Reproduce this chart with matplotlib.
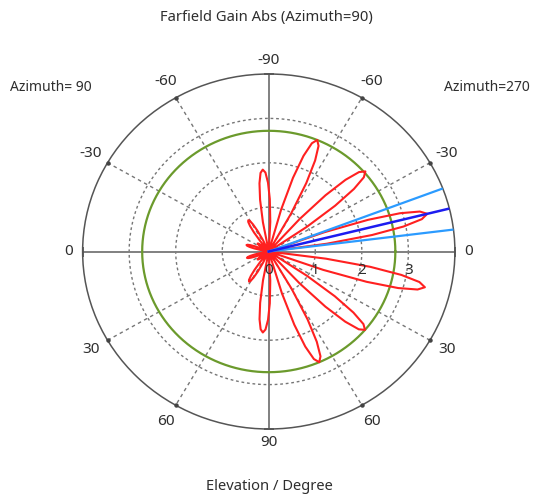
import matplotlib
matplotlib.use("Agg")
import matplotlib.pyplot as plt
import numpy as np

plt.rcParams['font.family'] = ['Noto Sans', 'DejaVu Sans']

# Polar angle in degrees, measured clockwise from the right-hand 0:
# -90..90 is the elevation on the Azimuth=270 side, the rest is the Azimuth=90 side.
theta_deg = [
    -170.5, -169, -167.5, -166, -164.5, -163, -161.5, -160, -158.5, -157, -155.5,
    -150.5, -149, -147.5, -146, -144.5, -143, -141.5, -140, -138.5, -137, -135.5,
    -129.5, -128, -126.5, -125, -123.5, -122, -120.5, -119, -117.5, -116, -114.5,
    -102.5, -100.8, -99.1, -97.4, -95.7, -94, -92.3, -90.6, -88.9, -87.2, -85.5,
    -76, -74.3, -72.6, -70.9, -69.2, -67.5, -65.8, -64.1, -62.4, -60.7, -59,
    -49.5, -47.8, -46.1, -44.4, -42.7, -41, -39.3, -37.6, -35.9, -34.2, -32.5,
    -21.5, -20, -18.5, -17, -15.5, -14, -12.5, -11, -9.5, -8, -6.5,
    6, 7.5, 9, 10.5, 12, 13.5, 15, 16.5, 18, 19.5, 21,
    32, 33.7, 35.4, 37.1, 38.8, 40.5, 42.2, 43.9, 45.6, 47.3, 49,
    58, 59.7, 61.4, 63.1, 64.8, 66.5, 68.2, 69.9, 71.6, 73.3, 75,
    85.5, 87.2, 88.9, 90.6, 92.3, 94, 95.7, 97.4, 99.1, 100.8, 102.5,
    114.5, 116, 117.5, 119, 120.5, 122, 123.5, 125, 126.5, 128, 129.5,
    135.5, 137, 138.5, 140, 141.5, 143, 144.5, 146, 147.5, 149, 150.5,
    155.5, 157, 158.5, 160, 161.5, 163, 164.5, 166, 167.5, 169, 170.5,
]
gain = [
    0, 0.18, 0.32, 0.42, 0.48, 0.50, 0.48, 0.42, 0.32, 0.18, 0,
    0, 0.11, 0.19, 0.25, 0.29, 0.30, 0.29, 0.25, 0.19, 0.11, 0,
    0, 0.30, 0.53, 0.70, 0.80, 0.83, 0.80, 0.70, 0.53, 0.30, 0,
    0, 0.67, 1.18, 1.55, 1.78, 1.85, 1.78, 1.55, 1.18, 0.67, 0,
    0, 0.98, 1.74, 2.28, 2.61, 2.72, 2.61, 2.28, 1.74, 0.98, 0,
    0, 0.99, 1.76, 2.31, 2.64, 2.75, 2.64, 2.31, 1.76, 0.99, 0,
    0, 1.26, 2.25, 2.95, 3.37, 3.51, 3.37, 2.95, 2.25, 1.26, 0,
    0, 1.24, 2.21, 2.90, 3.31, 3.45, 3.31, 2.90, 2.21, 1.24, 0,
    0, 0.98, 1.74, 2.28, 2.61, 2.72, 2.61, 2.28, 1.74, 0.98, 0,
    0, 0.98, 1.74, 2.28, 2.61, 2.72, 2.61, 2.28, 1.74, 0.98, 0,
    0, 0.66, 1.17, 1.54, 1.76, 1.83, 1.76, 1.54, 1.17, 0.66, 0,
    0, 0.29, 0.51, 0.67, 0.77, 0.80, 0.77, 0.67, 0.51, 0.29, 0,
    0, 0.11, 0.19, 0.25, 0.29, 0.30, 0.29, 0.25, 0.19, 0.11, 0,
    0, 0.18, 0.31, 0.41, 0.47, 0.49, 0.47, 0.41, 0.31, 0.18, 0,
]

main_lobe_deg = -14.0
beam_edges_deg = [-20.8, -7.1]
side_lobe_level = 2.72
r_max = 4.0
radial_ticks = [0, 1, 2, 3]
grid_circles = [1, 2, 3]
grid_spokes_deg = [30, 60, 120, 150, 210, 240, 300, 330]

right_elev = [-90, -60, -30, 0, 30, 60, 90]
left_elev = [-60, -30, 0, 30, 60]

text_col = '#2e2e2e'
grid_col = '#767676'

fig = plt.figure(figsize=(5.33, 5.0), dpi=100)
ax = fig.add_axes([0.155, 0.142, 0.6985, 0.71], projection='polar')
ax.set_aspect('auto')
ax.set_theta_zero_location('E')
ax.set_theta_direction(-1)
ax.set_rlim(0, r_max)
ax.set_xticks([])
ax.set_yticks([])
ax.grid(False)
ax.spines['polar'].set_color('#555555')
ax.spines['polar'].set_linewidth(1.1)

full = np.deg2rad(np.linspace(0, 360, 721))
for rc in grid_circles:
    ax.plot(full, np.full_like(full, rc), color=grid_col, lw=1.0,
            ls=(0, (2.0, 2.0)), zorder=1)
for sp in grid_spokes_deg:
    t = np.deg2rad(sp)
    ax.plot([t, t], [0, r_max], color=grid_col, lw=1.0,
            ls=(0, (2.5, 2.5)), zorder=1)
    ax.plot([t], [r_max], 'o', color='#444444', ms=2.2, zorder=3, clip_on=False)

# main cross axes
for a in [0, 90, 180, 270]:
    t = np.deg2rad(a)
    ax.plot([t, t], [0, r_max], color='#808080', lw=1.4, zorder=2, solid_capstyle='butt')
    ax.plot([t], [r_max], marker='_' if a in (90, 270) else '|', color='#555555',
            ms=7, mew=1.3, zorder=3, clip_on=False)

# side lobe level circle
ax.plot(full, np.full_like(full, side_lobe_level), color='#6b9a2c', lw=1.6, zorder=3)

# radiation pattern
ax.plot(np.deg2rad(theta_deg), gain, color='#ff2020', lw=1.5, zorder=4)

# main lobe direction and 3 dB beam width
for b in beam_edges_deg:
    tb = np.deg2rad(b)
    ax.plot([tb, tb], [0, r_max], color='#2b9bff', lw=1.6, zorder=5)
tm = np.deg2rad(main_lobe_deg)
ax.plot([tm, tm], [0, r_max], color='#1c1cf0', lw=1.8, zorder=6)

# radial scale labels
for v in radial_ticks:
    ax.annotate(str(v), xy=(0, v), xytext=(0, -19), textcoords='offset pixels',
                ha='center', va='center', fontsize=11, color=text_col,
                annotation_clip=False, zorder=7)

# elevation labels
def place(theta, label):
    diag = (abs(theta) % 90) != 0
    r = 4.42 if diag else 4.30
    ax.text(np.deg2rad(theta), r, label, ha='center', va='center',
            fontsize=11, color=text_col, clip_on=False)

for e in right_elev:
    place(e, str(e))
for e in left_elev:
    place(180 - e, str(e))

fig.text(266 / 533, 1 - 18 / 500, 'Farfield Gain Abs (Azimuth=90)', ha='center',
         va='center', fontsize=10.6, color=text_col)
fig.text(10 / 533, 1 - 88 / 500, 'Azimuth= 90', ha='left', va='center',
         fontsize=10, color=text_col)
fig.text(530 / 533, 1 - 88 / 500, 'Azimuth=270', ha='right', va='center',
         fontsize=10, color=text_col)
fig.text(269 / 533, 1 - 486 / 500, 'Elevation / Degree', ha='center', va='center',
         fontsize=10.6, color=text_col)

fig.savefig('out.png', dpi=100, facecolor='white')
